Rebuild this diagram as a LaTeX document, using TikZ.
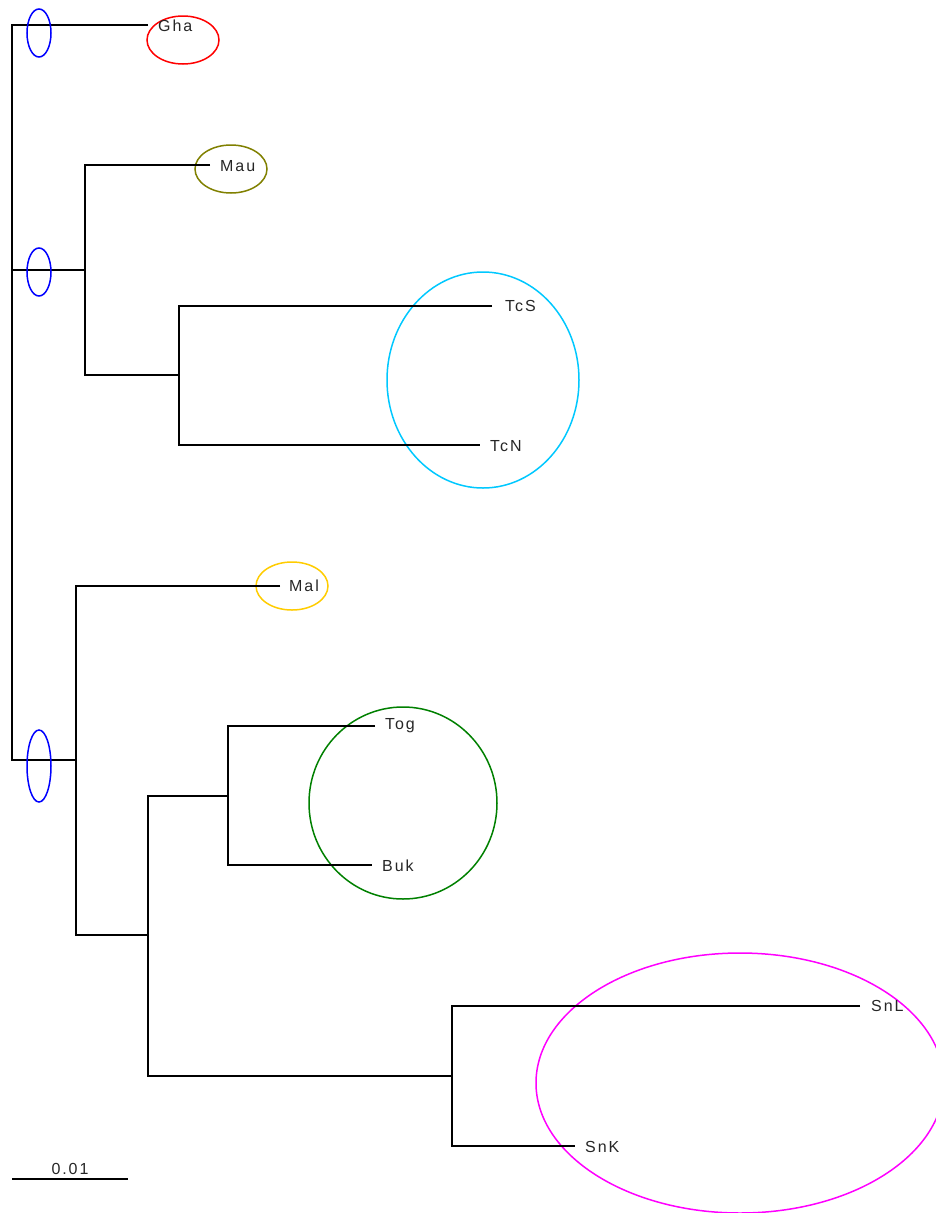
\documentclass[tikz,border=0pt]{standalone}
\usepackage{fontspec}
\setmainfont[LetterSpace=12]{Liberation Sans}
\begin{document}
\begin{tikzpicture}[x=1pt,y=-1pt,
  branch/.style={line width=1.3pt,black},
  ring/.style={line width=1.5pt},
  leaf/.style={anchor=west,inner sep=0pt,font=\fontsize{16}{16}\selectfont,text=black!85}]
\useasboundingbox (0,0) rectangle (936,1213);
\clip (0,0) rectangle (936,1213);
\definecolor{cRed}{RGB}{255,0,0}
\definecolor{cOlive}{RGB}{128,128,0}
\definecolor{cCyan}{RGB}{0,200,255}
\definecolor{cGold}{RGB}{255,204,0}
\definecolor{cGreen}{RGB}{0,128,0}
\definecolor{cMag}{RGB}{255,0,255}
\definecolor{cBlue}{RGB}{0,0,255}
% highlight ellipses
\draw[ring,cRed] (183,40) ellipse [x radius=36,y radius=24];
\draw[ring,cOlive] (231,169) ellipse [x radius=36,y radius=24];
\draw[ring,cCyan] (483,380) ellipse [x radius=96,y radius=108];
\draw[ring,cGold] (292,586) ellipse [x radius=36,y radius=24];
\draw[ring,cGreen] (403,803) ellipse [x radius=94,y radius=96];
\draw[ring,cMag] (740,1083) ellipse [x radius=204,y radius=130];
% internal nodes
\coordinate (r1) at (12,25);
\coordinate (r2) at (12,270);
\coordinate (r3) at (12,760);
\coordinate (a) at (85,270);
\coordinate (b) at (179,375);
\coordinate (c) at (76,760);
\coordinate (d) at (148,935);
\coordinate (e) at (228,796);
\coordinate (f) at (452,1076);
% tips
\coordinate (tGha) at (148,25);
\coordinate (tMau) at (210,165);
\coordinate (tTcS) at (492,306);
\coordinate (tTcN) at (480,445);
\coordinate (tMal) at (280,586);
\coordinate (tTog) at (375,726);
\coordinate (tBuk) at (372,865);
\coordinate (tSnL) at (860,1006);
\coordinate (tSnK) at (575,1146);
% labels
\node[leaf] (Gha) at (158,26) {Gha};
\node[leaf] (Mau) at (220,166) {Mau};
\node[leaf] (TcS) at (505,306) {TcS};
\node[leaf] (TcN) at (490,446) {TcN};
\node[leaf] (Mal) at (289,586) {Mal};
\node[leaf] (Tog) at (385,726) {Tog};
\node[leaf] (Buk) at (382,866) {Buk};
\node[leaf] (SnL) at (871,1006) {SnL};
\node[leaf] (SnK) at (585,1147) {SnK};
% tree
\draw[branch] (tGha) -- (r1) -- (r3) -- (c);
\draw[branch] (r2) -- (a);
\draw[branch] (tMau) -| (a) |- (b);
\draw[branch] (tTcS) -| (b) |- (tTcN);
\draw[branch] (tMal) -| (c) |- (d);
\draw[branch] (e) -| (d) |- (f);
\draw[branch] (tTog) -| (e) |- (tBuk);
\draw[branch] (tSnL) -| (f) |- (tSnK);
% node support marks
\draw[ring,cBlue] (39,33) ellipse [x radius=12,y radius=24];
\draw[ring,cBlue] (39,272) ellipse [x radius=12,y radius=24];
\draw[ring,cBlue] (39,766) ellipse [x radius=12,y radius=36];
% scale bar
\coordinate (s1) at (12,1179);
\coordinate (s2) at (128,1179);
\draw[branch] (s1) -- (s2);
\node[leaf,anchor=center] (scale) at (70,1169) {0.01};
\end{tikzpicture}
\end{document}
